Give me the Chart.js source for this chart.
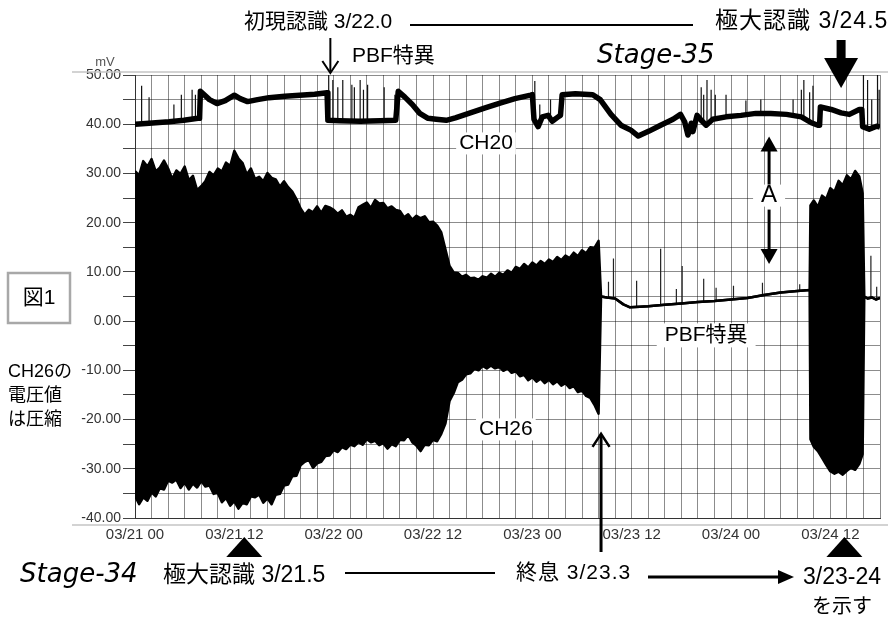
<!DOCTYPE html>
<html><head><meta charset="utf-8">
<script src="https://cdn.jsdelivr.net/npm/chart.js@4"></script>
<style>html,body{margin:0;padding:0;background:#fff}canvas{display:block}</style>
</head><body>
<canvas id="c" width="888" height="617"></canvas>
<script>
// ---- axis ticks ----
const xTickHours = [0, 12, 24, 36, 48, 60, 72, 84];
const xTickLabels = ['03/21 00','03/21 12','03/22 00','03/22 12','03/23 00','03/23 12','03/24 00','03/24 12'];
const yTickValues = [50, 40, 30, 20, 10, 0, -10, -20, -30, -40];
const yTickLabels = ['50.00','40.00','30.00','20.00','10.00','0.00','-10.00','-20.00','-30.00','-40.00'];

// ---- CH20 (hours from 03/21 00, mV) ----
const ch20Hours = [
  0, 1.7, 4.1, 5.9, 7.6, 7.8, 7.9, 9.0, 9.9, 10.9,
  12.0, 12.7, 13.6, 14.8, 16.2, 18.1, 19.9, 21.7, 23.2, 23.3,
  24.7, 27.2, 29.6, 31.5, 31.8, 32.6, 33.5, 34.4, 35.4, 36.4,
  37.6, 38.7, 40.5, 42.3, 44.1, 45.9, 47.8, 48.0, 48.2, 48.7,
  49.2, 49.9, 50.4, 51.2, 51.4, 51.6, 53.2, 55.3, 56.2, 57.5,
  58.7, 59.9, 60.8, 62.1, 63.5, 65.0, 65.9, 66.4, 66.8, 67.2,
  67.4, 67.9, 68.4, 69.0, 69.8, 71.4, 73.2, 75.0, 76.8, 78.7,
  80.5, 81.7, 82.5, 82.7, 82.8, 84.1, 85.3, 86.3, 87.5, 87.8,
  87.9, 88.7, 89.6, 90
];
const ch20Values = [
  40.0, 40.2, 40.5, 40.8, 41.2, 41.2, 46.7, 45.0, 44.2, 44.8,
  45.9, 45.2, 44.6, 45.0, 45.4, 45.7, 45.9, 46.1, 46.4, 40.8,
  40.7, 40.6, 40.7, 40.8, 46.7, 45.5, 44.0, 42.2, 41.2, 41.0,
  40.8, 41.3, 42.3, 43.3, 44.3, 45.2, 45.9, 46.0, 41.0, 39.5,
  41.5, 41.8, 40.6, 41.6, 41.8, 46.0, 46.2, 46.0, 45.0, 42.0,
  39.8, 38.8, 37.6, 38.6, 39.8, 41.0, 42.0, 40.5, 37.8, 40.2,
  38.5, 41.8, 40.8, 39.8, 41.0, 41.5, 41.8, 42.2, 42.2, 42.0,
  41.5, 40.3, 39.8, 39.8, 43.5, 43.0, 42.3, 42.0, 43.0, 43.0,
  39.5, 39.0, 39.6, 39.4
];
// CH20 spikes: hour, base, top
const ch20SpikeHours = [0.8,1.7,4.7,5.6,6.9,7.3,23.4,23.9,24.5,25.1,26.2,26.5,27.2,27.6,28.1,30.1,31.4,48.3,48.9,50.2,68.4,68.7,69.1,69.6,70.1,71.4,73.8,75.6,79.5,80.5,80.8,81.5,81.9,88.0,88.5,89.0,89.7,89.9];
const ch20SpikeBase  = [40.1,40.2,40.6,40.7,41.0,41.1,40.8,40.8,40.7,40.7,40.6,40.6,40.6,40.6,40.6,40.7,40.8,41.0,40.5,41.0,40.8,40.6,39.8,40.6,41.2,41.5,41.9,42.2,41.8,41.5,41.4,40.5,40.2,39.4,39.1,39.2,39.6,39.4];
const ch20SpikeTop   = [47.8,45.5,44.0,46.0,47.0,46.0,50.0,49.0,47.5,49.0,48.0,47.5,49.0,47.0,48.0,47.5,46.0,48.8,44.0,45.0,47.5,46.0,49.0,47.0,46.0,46.0,44.8,45.0,45.0,47.0,49.0,46.5,47.8,50.0,49.0,45.0,50.0,47.0];

// ---- CH26 envelope (hours, upper mV, lower mV) ----
const ch26Hours = [
  0,0.5,1,1.5,2,2.5,3,3.5,4,4.5, 5,5.5,6,6.5,7,7.5,8,8.5,9,9.5,
  10,10.5,11,11.5,12,12.5,13,13.5,14,14.5, 15,15.5,16,16.5,17,17.5,18,18.5,19,19.5,
  20,20.5,21,21.5,22,22.5,23,23.5,24,24.5, 25,25.5,26,26.5,27,27.5,28,28.5,29,29.5,
  30,30.5,31,31.5,32,32.5,33,33.5,34,34.5, 35,35.5,36,36.5,37,37.5,38,38.5,39,39.5,
  40,40.5,41,41.5,42,42.5,43,43.5,44,44.5, 45,45.5,46,46.5,47,47.5,48,48.5,49,49.5,
  50,50.5,51,51.5,52,52.5,53,53.5,54,54.5, 55,55.5,56,
  56.3,57,58,59,59.8,61,62,64,66,68,70,72,74,76,78,80,81.5,
  81.6,82,82.5,83,83.5,84,84.5,85,85.5,86,86.5,87,87.5,87.9,
  88.1,88.5,89,89.5,90
];
const ch26Upper = [
  30.5,29.6,32.5,31.4,32.9,30.4,31.2,32.6,31.0,28.9,
  30.6,29.9,31.4,28.6,29.5,26.6,27.4,28.4,30.3,29.6,
  31.0,30.4,32.2,31.5,34.6,33.0,32.1,29.8,31.0,28.9,
  29.3,28.4,30.1,29.1,28.8,27.3,28.4,27.2,26.3,24.8,
  22.9,21.6,22.6,22.1,23.3,22.0,23.4,23.1,22.6,21.8,
  22.5,21.2,21.6,21.0,23.1,23.6,24.1,23.0,24.6,23.9,
  24.0,22.9,23.3,22.6,22.4,21.1,21.7,20.6,21.4,20.9,
  21.3,20.1,20.2,19.4,18.0,14.6,11.2,9.9,9.8,9.0,
  9.4,8.7,8.8,8.4,9.1,8.8,9.6,9.0,9.8,9.4,
  10.3,9.8,11.0,10.6,11.6,10.9,11.9,11.3,12.2,11.6,
  12.5,12.0,13.0,12.4,13.3,12.8,13.9,13.2,14.4,13.8,
  15.0,14.9,16.3,
  5.0,4.8,4.6,3.4,2.8,2.9,3.0,3.3,3.6,3.9,4.1,4.4,4.7,5.3,5.8,6.1,6.3,
  23.5,24.5,23.2,25.5,24.8,27.0,26.3,28.5,27.6,29.6,28.8,30.5,29.4,26.0,
  5.0,4.6,4.8,4.4,4.7
];
const ch26Lower = [
  -35.5,-37.2,-35.8,-36.5,-34.8,-35.6,-33.9,-34.2,-32.4,-32.8,
  -32.2,-33.9,-32.8,-34.2,-33.0,-33.8,-32.5,-33.6,-33.4,-35.1,
  -34.9,-36.8,-35.9,-37.5,-36.6,-38.1,-36.9,-37.2,-35.6,-35.8,
  -35.2,-36.9,-36.0,-37.2,-35.3,-35.1,-33.4,-33.2,-31.5,-31.4,
  -29.3,-28.6,-28.2,-29.8,-28.9,-28.6,-27.4,-27.3,-26.2,-26.6,
  -25.6,-26.0,-25.1,-25.4,-24.6,-25.1,-24.0,-24.6,-24.3,-25.2,
  -24.8,-25.9,-25.0,-25.4,-24.1,-24.2,-23.1,-24.6,-25.3,-26.4,
  -25.1,-25.2,-24.1,-24.4,-22.9,-20.8,-16.2,-14.6,-12.4,-11.9,
  -10.8,-10.6,-9.7,-10.0,-9.1,-9.6,-9.0,-9.6,-9.3,-10.1,
  -9.6,-10.5,-10.2,-11.2,-10.9,-12.0,-11.4,-12.3,-11.7,-12.6,
  -11.9,-12.8,-12.2,-13.1,-12.6,-13.6,-13.2,-14.4,-14.1,-15.2,
  -15.6,-17.0,-18.8,
  5.0,4.8,4.6,3.4,2.8,2.9,3.0,3.3,3.6,3.9,4.1,4.4,4.7,5.3,5.8,6.1,6.3,
  -24.0,-25.5,-26.4,-27.8,-29.2,-30.5,-31.0,-30.6,-31.2,-30.4,-29.8,-30.2,-29.0,-27.0,
  5.0,4.6,4.8,4.4,4.7
];
// CH26 spikes on the quiet trace: hour, base, top
const ch26SpikeHours = [57.2,57.8,60.6,63.5,65.4,66.1,68.7,70.2,72.3,75.8,80.3,88.9,89.6];
const ch26SpikeBase  = [4.8,4.7,2.9,3.2,3.5,3.6,3.9,4.1,4.4,5.2,6.1,4.8,4.5];
const ch26SpikeTop   = [8.0,12.7,8.2,14.7,6.5,11.2,8.6,6.8,7.2,7.8,7.5,13.3,7.0];

// ---- annotation anchors (hours / mV) ----
const markFirst = 23.6;
const markMax2 = 85.3;
const markEnd = 56.3;
const triMarks = [13.2, 85.7];
const aArrow = {h: 76.6, top: 37.5, bottom: 11.6, label: 25.5};
const labelCH20 = {h: 42.4, v: 36.1};
const labelCH26 = {h: 44.8, v: -22.0};
const labelPBF2 = {h: 69.0, v: -2.9};
const endArrowTip = -22.9;

function pts(xs, ys){ return xs.map((x,i)=>({x:x, y:ys[i]})); }
function spikes(xs, b, t){ const o=[]; xs.forEach((x,i)=>{ o.push({x:x,y:b[i]},{x:x,y:t[i]},{x:x,y:null}); }); return o; }

const JP = '"Liberation Sans","Noto Sans CJK JP",sans-serif';

function txt(ctx, s, x, y, font, o){
  o = o || {};
  ctx.font = font; ctx.textBaseline = 'middle'; ctx.textAlign = o.align || 'left';
  if (o.ls) ctx.letterSpacing = o.ls;
  if (o.bg){
    const w = ctx.measureText(s).width;
    const left = (o.align === 'center') ? x - w/2 : x;
    ctx.fillStyle = '#fff';
    ctx.fillRect(left - o.bg, y - o.h/2, w + 2*o.bg, o.h);
  }
  ctx.fillStyle = o.color || '#000';
  ctx.fillText(s, x, y);
  ctx.letterSpacing = '0px';
}
function line(ctx, x1, y1, x2, y2, w, c){
  ctx.beginPath(); ctx.moveTo(x1,y1); ctx.lineTo(x2,y2);
  ctx.lineWidth = w; ctx.strokeStyle = c || '#000'; ctx.stroke();
}
function tri(ctx, a, b, c){
  ctx.beginPath(); ctx.moveTo(a[0],a[1]); ctx.lineTo(b[0],b[1]); ctx.lineTo(c[0],c[1]); ctx.closePath();
  ctx.fillStyle = '#000'; ctx.fill();
}

const annot = {
  id: 'annot',
  afterDraw(chart){
    const ctx = chart.ctx, xs = chart.scales.x, ys = chart.scales.y;
    const X = h => xs.getPixelForValue(h), Y = v => ys.getPixelForValue(v);
    ctx.save();
    ctx.lineCap = 'butt';
    line(ctx, 72, 72, 888, 72, 1.5, '#c4c4c4');
    line(ctx, 72, 525, 888, 525, 1.5, '#c4c4c4');
    txt(ctx, 'mV', 105, 62, '13px "Liberation Sans"', {align:'center', color:'#555'});

    txt(ctx, '初現認識 3/22.0', 244, 22, '21px ' + JP);
    line(ctx, 410, 25, 693, 25, 2);
    txt(ctx, '極大認識 3/24.5', 715, 22, '23px ' + JP, {ls:'1px'});
    const xf = X(markFirst);
    line(ctx, xf, 38, xf, 72, 2);
    ctx.beginPath(); ctx.moveTo(xf-8, 61); ctx.lineTo(xf, 73); ctx.lineTo(xf+8, 61);
    ctx.lineWidth = 2; ctx.strokeStyle = '#000'; ctx.stroke();
    txt(ctx, 'PBF特異', 352, 56, '21px ' + JP);
    txt(ctx, 'Stage-35', 597, 56, 'italic 26px "DejaVu Sans"');
    const xm = X(markMax2);
    ctx.fillStyle = '#000'; ctx.fillRect(xm-4.5, 40, 9, 19);
    tri(ctx, [xm-17, 58], [xm+17, 58], [xm, 88]);

    txt(ctx, 'CH20', X(labelCH20.h), Y(labelCH20.v), '21px ' + JP, {align:'center', bg:3, h:22});
    txt(ctx, 'CH26', X(labelCH26.h), Y(labelCH26.v), '21px ' + JP, {align:'center', bg:3, h:22});
    txt(ctx, 'PBF特異', X(labelPBF2.h), Y(labelPBF2.v), '21px ' + JP, {align:'center', bg:8, h:24});

    const xa = X(aArrow.h), yt = Y(aArrow.top), yb = Y(aArrow.bottom), yl = Y(aArrow.label);
    line(ctx, xa, yt+12, xa, yl-10, 3);
    line(ctx, xa, yl+14, xa, yb-12, 3);
    tri(ctx, [xa-8.5, yt+15], [xa+8.5, yt+15], [xa, yt]);
    tri(ctx, [xa-8.5, yb-15], [xa+8.5, yb-15], [xa, yb]);
    txt(ctx, 'A', xa, yl, '24px "Liberation Sans"', {align:'center', bg:8, h:22});

    const xe = X(markEnd), ye = Y(endArrowTip);
    line(ctx, xe, 552, xe, ye+1, 3);
    ctx.beginPath(); ctx.moveTo(xe-8.5, ye+13); ctx.lineTo(xe, ye); ctx.lineTo(xe+8.5, ye+13);
    ctx.lineWidth = 2.5; ctx.strokeStyle = '#000'; ctx.stroke();

    triMarks.forEach(h => { const x = X(h); tri(ctx, [x-18, 557], [x+18, 557], [x, 537]); });

    txt(ctx, 'Stage-34', 20, 575, 'italic 26px "DejaVu Sans"');
    txt(ctx, '極大認識 3/21.5', 163, 576, '23px ' + JP);
    line(ctx, 345, 573, 495, 573, 2);
    txt(ctx, '終息 3/23.3', 516, 573, '21px ' + JP, {ls:'1px'});
    line(ctx, 648, 577, 780, 577, 3);
    tri(ctx, [778, 570], [778, 584], [794, 577]);
    txt(ctx, '3/23-24', 803, 578, '23px ' + JP);
    txt(ctx, 'を示す', 812, 607, '20px ' + JP);

    ctx.lineWidth = 2.5; ctx.strokeStyle = '#a8a8a8';
    ctx.strokeRect(8, 273, 62, 50);
    txt(ctx, '図1', 39, 298, '21px ' + JP, {align:'center'});
    txt(ctx, 'CH26の', 8, 372, '18px ' + JP);
    txt(ctx, '電圧値', 8, 396, '18px ' + JP);
    txt(ctx, 'は圧縮', 8, 420, '18px ' + JP);
    ctx.restore();
  }
};

new Chart(document.getElementById('c'), {
  type: 'line',
  data: {
    datasets: [
      { label: 'CH20', data: pts(ch20Hours, ch20Values), borderColor: '#000', borderWidth: 5.5, fill: false, tension: 0 },
      { label: 'CH20 spikes', data: spikes(ch20SpikeHours, ch20SpikeBase, ch20SpikeTop), borderColor: '#111', borderWidth: 1.2, fill: false, spanGaps: false },
      { label: 'CH26 upper', data: pts(ch26Hours, ch26Upper), borderColor: '#000', borderWidth: 2.5, fill: false },
      { label: 'CH26 lower', data: pts(ch26Hours, ch26Lower), borderColor: '#000', borderWidth: 2.5, fill: '-1', backgroundColor: '#000' },
      { label: 'CH26 spikes', data: spikes(ch26SpikeHours, ch26SpikeBase, ch26SpikeTop), borderColor: '#222', borderWidth: 1.2, fill: false, spanGaps: false }
    ]
  },
  options: {
    responsive: false,
    animation: false,
    devicePixelRatio: 1,
    layout: { padding: { top: 75, right: 8, bottom: 0, left: 0 } },
    elements: { point: { radius: 0 }, line: { borderJoinStyle: 'round' } },
    plugins: { legend: { display: false }, tooltip: { enabled: false } },
    scales: {
      x: {
        type: 'linear', min: 0, max: 90,
        afterFit(s){ s.height = 99; },
        border: { display: true, color: '#333', width: 1 },
        grid: { color: 'rgba(0,0,0,0.45)', lineWidth: 1, drawTicks: false },
        ticks: {
          stepSize: 2, autoSkip: false, maxRotation: 0, minRotation: 0, padding: 8,
          color: '#333', font: {family: '"Liberation Sans",sans-serif', size: 15},
          callback(v){ const i = xTickHours.indexOf(v); return i >= 0 ? xTickLabels[i] : ''; }
        }
      },
      y: {
        type: 'linear', min: -40, max: 50,
        afterFit(s){ s.width = 135; },
        border: { display: true, color: '#333', width: 1 },
        grid: { color: 'rgba(0,0,0,0.45)', lineWidth: 1, tickLength: 12, tickColor: '#444' },
        ticks: {
          stepSize: 5, autoSkip: false, padding: 2,
          color: '#333', font: {family: '"Liberation Sans",sans-serif', size: 14},
          callback(v){ const i = yTickValues.indexOf(v); return i >= 0 ? yTickLabels[i] : ''; }
        }
      }
    }
  },
  plugins: [annot]
});
</script>
</body></html>
